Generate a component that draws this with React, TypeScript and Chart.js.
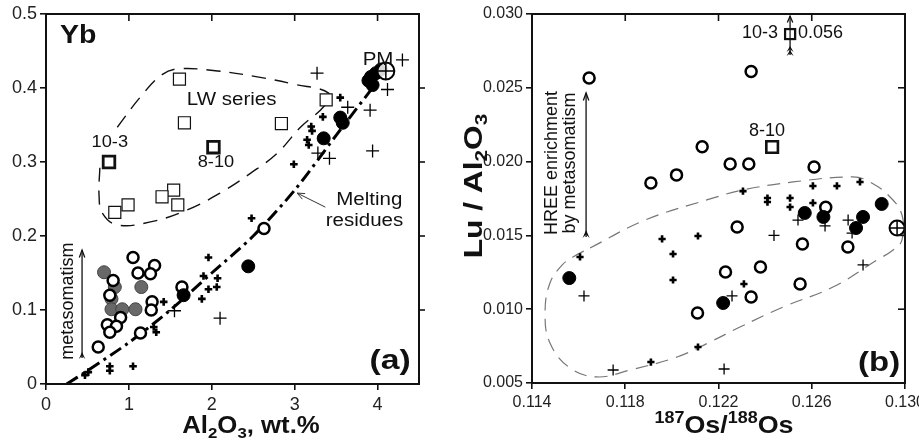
import React, { useEffect, useRef } from "react";
import { Chart, registerables } from "chart.js";
Chart.register(...registerables);

const FONT = "'Liberation Sans', Arial, Helvetica, sans-serif";
type P = [number, number];

// ---------- Panel (a): Yb vs Al2O3 ----------
const aXTicks = [0, 1, 2, 3, 4];
const aYTicks = [0, 0.1, 0.2, 0.3, 0.4, 0.5];
const aOpenCircles: P[] = [
  [1.05, 0.171], [1.31, 0.16], [1.11, 0.15], [1.26, 0.149], [0.81, 0.14], [0.77, 0.12],
  [1.28, 0.111], [1.27, 0.1], [0.9, 0.09], [0.74, 0.08], [0.85, 0.078], [0.77, 0.07],
  [1.14, 0.069], [0.63, 0.05], [1.64, 0.131], [2.63, 0.21],
];
const aGrayCircles: P[] = [
  [0.7, 0.151], [0.83, 0.131], [0.79, 0.115], [0.79, 0.101], [0.92, 0.101], [1.08, 0.101], [1.15, 0.131],
];
const aFilledCircles: P[] = [
  [3.92, 0.415], [3.98, 0.42], [4.04, 0.425], [3.94, 0.404], [3.89, 0.41], [3.58, 0.353],
  [3.55, 0.36], [3.35, 0.332], [2.44, 0.159], [1.66, 0.12],
];
const aSquares: P[] = [
  [1.61, 0.412], [1.67, 0.353], [0.99, 0.242], [0.83, 0.232], [1.54, 0.262], [1.4, 0.253],
  [1.59, 0.242], [2.84, 0.352], [3.38, 0.384],
];
const aBoldSquares: P[] = [[0.76, 0.3], [2.02, 0.32]];
const aThinPlus: P[] = [
  [3.27, 0.42], [4.3, 0.438], [4.12, 0.398], [3.64, 0.374], [3.91, 0.37], [3.94, 0.315],
  [3.28, 0.312], [3.42, 0.305], [1.55, 0.099], [2.1, 0.089],
];
const aBoldPlus: P[] = [
  [2.48, 0.224], [1.96, 0.171], [2.07, 0.143], [1.9, 0.146], [1.88, 0.115], [1.96, 0.128],
  [2.06, 0.131], [1.42, 0.111], [1.33, 0.07], [1.3, 0.077], [1.05, 0.024], [0.77, 0.024],
  [0.77, 0.018], [0.51, 0.016], [0.47, 0.012], [2.99, 0.297], [3.55, 0.387], [3.34, 0.361],
  [3.2, 0.348], [3.21, 0.342], [3.15, 0.33], [3.17, 0.323],
];
const aPM: P[] = [[4.1, 0.423]];
const aMeltingLine: P[] = [
  [0.25, 0], [0.5, 0.018], [1.0, 0.056], [1.5, 0.1], [2.0, 0.15], [2.5, 0.2], [3.0, 0.262],
  [3.5, 0.336], [4.02, 0.412],
];
const aLWOutline: P[] = [
  [0.86, 0.347], [1.14, 0.388], [1.4, 0.418], [1.6, 0.426], [2.07, 0.423], [2.55, 0.415],
  [3.0, 0.405], [3.41, 0.393], [3.36, 0.376], [3.07, 0.347], [2.79, 0.312], [2.47, 0.285],
  [2.1, 0.258], [1.7, 0.235], [1.26, 0.219], [0.86, 0.215], [0.68, 0.231], [0.64, 0.255],
  [0.65, 0.293],
];

// ---------- Panel (b): Lu/Al2O3 vs 187Os/188Os ----------
const bXTicks = [0.114, 0.118, 0.122, 0.126, 0.13];
const bYTicks = [0.005, 0.01, 0.015, 0.02, 0.025, 0.03];
const bOpenCircles: P[] = [
  [0.11645, 0.02566], [0.1234, 0.0261], [0.1213, 0.021], [0.1191, 0.01855], [0.1202, 0.0191],
  [0.1225, 0.01984], [0.1233, 0.01984], [0.1261, 0.01963], [0.1266, 0.0169], [0.1228, 0.01557],
  [0.1256, 0.01442], [0.12755, 0.01421], [0.1238, 0.01286], [0.1223, 0.01252], [0.1255, 0.01171],
  [0.1234, 0.01083], [0.1211, 0.00974],
];
const bFilledCircles: P[] = [
  [0.1156, 0.01211], [0.1222, 0.01042], [0.1257, 0.01652], [0.1265, 0.01625], [0.1282, 0.01625],
  [0.1279, 0.0155], [0.129, 0.01713],
];
const bThinPlus: P[] = [
  [0.11623, 0.0109], [0.11748, 0.00588], [0.12224, 0.00595], [0.12438, 0.015], [0.12541, 0.01604],
  [0.12657, 0.01564], [0.12756, 0.01604], [0.12773, 0.01516], [0.12258, 0.0109], [0.1282, 0.013],
];
const bBoldPlus: P[] = [
  [0.11606, 0.01354], [0.1191, 0.00642], [0.11958, 0.01476], [0.12005, 0.01374], [0.12005, 0.01198],
  [0.12112, 0.01496], [0.12112, 0.00744], [0.12305, 0.018], [0.1241, 0.01753], [0.1241, 0.01726],
  [0.12507, 0.01753], [0.12507, 0.01692], [0.12605, 0.01835], [0.12708, 0.01835], [0.12807, 0.01862],
  [0.12605, 0.0172], [0.12309, 0.01171],
];
const bPM: P[] = [[0.12966, 0.0155]];
const bSquare810: P[] = [[0.1243, 0.02099]];
const bSquare103: P[] = [[0.12507, 0.02864]];
const bOutline: P[] = [
  [0.11649, 0.01415], [0.11885, 0.01604], [0.12164, 0.01747], [0.12305, 0.01808], [0.1252, 0.01862],
  [0.12777, 0.01896], [0.1285, 0.01862], [0.12936, 0.0176], [0.12987, 0.01638], [0.12987, 0.01469],
  [0.12949, 0.01401], [0.1288, 0.01333], [0.12691, 0.0115], [0.12477, 0.01015], [0.12292, 0.00879],
  [0.12164, 0.00778], [0.12022, 0.00676], [0.1182, 0.00588], [0.11679, 0.00541], [0.11563, 0.00602],
  [0.11477, 0.00771], [0.11456, 0.00974], [0.11477, 0.01178], [0.11529, 0.01299], [0.11576, 0.01354],
  [0.11649, 0.01415],
];

// ---------- helpers ----------
type Part = { t: string; s?: "sub" | "sup" };
type TOpt = { bold?: boolean; align?: "left" | "center" | "right"; rot?: number; sx?: number; color?: string };

function rich(ctx: CanvasRenderingContext2D, parts: Part[], x: number, y: number, size: number, o: TOpt = {}) {
  const w8 = o.bold ? "bold " : "";
  const big = `${w8}${size}px ${FONT}`;
  const small = `${w8}${Math.round(size * 0.66)}px ${FONT}`;
  ctx.save();
  ctx.translate(x, y);
  if (o.rot) ctx.rotate(o.rot);
  if (o.sx) ctx.scale(o.sx, 1);
  ctx.fillStyle = o.color || "#111";
  ctx.textBaseline = "middle";
  ctx.textAlign = "left";
  let total = 0;
  for (const p of parts) {
    ctx.font = p.s ? small : big;
    total += ctx.measureText(p.t).width;
  }
  let cx = o.align === "right" ? -total : o.align === "left" ? 0 : -total / 2;
  for (const p of parts) {
    ctx.font = p.s ? small : big;
    const dy = p.s === "sub" ? size * 0.28 : p.s === "sup" ? -size * 0.3 : 0;
    ctx.fillText(p.t, cx, dy);
    cx += ctx.measureText(p.t).width;
  }
  ctx.restore();
}

function seg(ctx: CanvasRenderingContext2D, x1: number, y1: number, x2: number, y2: number) {
  ctx.beginPath();
  ctx.moveTo(x1, y1);
  ctx.lineTo(x2, y2);
  ctx.stroke();
}
function openHead(ctx: CanvasRenderingContext2D, x: number, y: number, ang: number, len: number, spread: number) {
  const a1 = ang + Math.PI - spread;
  const a2 = ang + Math.PI + spread;
  ctx.beginPath();
  ctx.moveTo(x + len * Math.cos(a1), y + len * Math.sin(a1));
  ctx.lineTo(x, y);
  ctx.lineTo(x + len * Math.cos(a2), y + len * Math.sin(a2));
  ctx.stroke();
}
function fletch(ctx: CanvasRenderingContext2D, x: number, y: number, w: number, h: number) {
  ctx.beginPath();
  ctx.moveTo(x, y);
  ctx.lineTo(x + w, y + h);
  ctx.lineTo(x, y + h * 0.55);
  ctx.lineTo(x - w, y + h);
  ctx.closePath();
  ctx.fill();
}

const toXY = (arr: P[]) => arr.map(([x, y]) => ({ x, y }));

function pts(arr: P[], style: any, order: number) {
  return { data: toXY(arr), showLine: false, clip: false, order, ...style };
}
function curve(arr: P[], style: any, order: number) {
  return { data: toXY(arr), showLine: true, pointRadius: 0, clip: false, order, fill: false, ...style };
}

const openCircle = (r: number) => ({ pointStyle: "circle", pointRadius: r, pointBackgroundColor: "#fff", pointBorderColor: "#000", pointBorderWidth: 2.5 });
const filledCircle = (r: number) => ({ pointStyle: "circle", pointRadius: r, pointBackgroundColor: "#000", pointBorderColor: "#000", pointBorderWidth: 1 });
const grayCircle = { pointStyle: "circle", pointRadius: 6.5, pointBackgroundColor: "#686868", pointBorderColor: "#444", pointBorderWidth: 1 };
const square = (r: number, bw: number) => ({ pointStyle: "rect", pointRadius: r, pointBackgroundColor: "#fff", pointBorderColor: "#111", pointBorderWidth: bw });
const plus = (r: number, bw: number) => ({ pointStyle: "cross", pointRadius: r, pointBorderColor: "#000", pointBorderWidth: bw });
const pmCircle = (r: number) => ({ pointStyle: "circle", pointRadius: r, pointBackgroundColor: "rgba(255,255,255,0.85)", pointBorderColor: "#000", pointBorderWidth: 2 });

function framePlugin(cfg: { topTicks: number[]; rightTicks: number[]; rightOut: boolean; draw: (ctx: CanvasRenderingContext2D, X: (v: number) => number, Y: (v: number) => number, chart: any) => void }) {
  return {
    id: "frame",
    afterDraw(chart: any) {
      const { ctx, chartArea: a, scales } = chart;
      const X = (v: number) => scales.x.getPixelForValue(v);
      const Y = (v: number) => scales.y.getPixelForValue(v);
      ctx.save();
      ctx.strokeStyle = "#111";
      ctx.lineWidth = 2;
      ctx.strokeRect(a.left, a.top, a.right - a.left, a.bottom - a.top);
      ctx.lineWidth = 1.6;
      for (const v of cfg.topTicks) {
        const px = X(v);
        seg(ctx, px, a.top, px, a.top + 7);
      }
      for (const v of cfg.rightTicks) {
        const py = Y(v);
        if (cfg.rightOut) seg(ctx, a.right, py, a.right + 6, py);
        else seg(ctx, a.right - 7, py, a.right, py);
      }
      ctx.restore();
      ctx.save();
      cfg.draw(ctx, X, Y, chart);
      ctx.restore();
    },
  };
}

function axisCommon(ticksArr: number[], fmt: (v: number) => string, size: number, isX: boolean, fitSize: number, min: number, max: number) {
  return {
    type: "linear",
    min,
    max,
    afterBuildTicks: (s: any) => {
      s.ticks = ticksArr.map((v) => ({ value: v }));
    },
    afterFit: (s: any) => {
      if (isX) s.height = fitSize;
      else s.width = fitSize;
      s.paddingLeft = 0;
      s.paddingRight = 0;
      s.paddingTop = 0;
      s.paddingBottom = 0;
    },
    ticks: {
      color: "#222",
      font: { family: FONT, size },
      padding: isX ? 4 : 3,
      maxRotation: 0,
      autoSkip: false,
      callback: (v: any) => fmt(Number(v)),
    },
    grid: { display: true, drawOnChartArea: false, drawTicks: true, tickLength: 6, color: "#111", lineWidth: 1.6 },
    border: { display: true, color: "#111", width: 2 },
  };
}

function makeA(): any {
  const datasets = [
    pts(aPM, plus(8.5, 1.5), 0),
    pts(aPM, pmCircle(8.5), 1),
    pts(aFilledCircles, filledCircle(6.5), 2),
    pts(aBoldSquares, square(8.2, 2.8), 3),
    pts(aSquares, square(8.5, 1.2), 4),
    pts(aOpenCircles, openCircle(5.5), 5),
    pts(aGrayCircles, grayCircle, 6),
    pts(aBoldPlus, plus(3.8, 2.6), 7),
    pts(aThinPlus, plus(6.5, 1.3), 8),
    curve(aMeltingLine, { borderColor: "#000", borderWidth: 3, borderDash: [13, 5, 3, 5], tension: 0.3 }, 9),
    curve(aLWOutline, { borderColor: "#111", borderWidth: 1.4, borderDash: [14, 9], tension: 0.4 }, 10),
  ];
  return {
    type: "scatter",
    data: { datasets },
    options: {
      animation: false,
      responsive: false,
      devicePixelRatio: 1,
      events: [],
      layout: { padding: { left: 0, top: 14, right: 41, bottom: 0 }, autoPadding: false },
      plugins: { legend: { display: false }, tooltip: { enabled: false } },
      scales: {
        x: axisCommon(aXTicks, (v) => String(v), 18, true, 56, 0, 4.5),
        y: axisCommon(aYTicks, (v) => (v === 0 ? "0" : v.toFixed(1)), 18, false, 46, 0, 0.5),
      },
    },
    plugins: [
      framePlugin({
        topTicks: [1, 2, 3, 4],
        rightTicks: [0.1, 0.2, 0.3, 0.4],
        rightOut: true,
        draw: (ctx, X, Y) => {
          const S = 1.14;
          rich(ctx, [{ t: "Yb" }], X(0.17), Y(0.47), 25, { bold: true, align: "left", sx: S });
          rich(ctx, [{ t: "PM" }], X(3.82), Y(0.438), 18, { align: "left", sx: S });
          rich(ctx, [{ t: "LW series" }], X(2.24), Y(0.384), 18, { sx: S });
          rich(ctx, [{ t: "10-3" }], X(0.77), Y(0.326), 16, { sx: S });
          rich(ctx, [{ t: "8-10" }], X(2.05), Y(0.299), 16, { sx: S });
          rich(ctx, [{ t: "Melting" }], X(4.3), Y(0.249), 18, { align: "right", sx: S });
          rich(ctx, [{ t: "residues" }], X(4.31), Y(0.22), 18, { align: "right", sx: S });
          rich(ctx, [{ t: "metasomatism" }], X(0.27), Y(0.112), 18, { rot: -Math.PI / 2 });
          rich(ctx, [{ t: "(a)" }], X(4.4), Y(0.03), 27, { bold: true, align: "right", sx: 1.25 });
          // melting residues pointer
          ctx.strokeStyle = "#333";
          ctx.lineWidth = 1;
          const x1 = X(3.37), y1 = Y(0.239), x2 = X(3.03), y2 = Y(0.258);
          seg(ctx, x1, y1, x2, y2);
          openHead(ctx, x2, y2, Math.atan2(y2 - y1, x2 - x1), 8, 0.4);
          // metasomatism arrow
          ctx.strokeStyle = "#111";
          ctx.fillStyle = "#111";
          ctx.lineWidth = 1.3;
          const mx = X(0.435), mTop = Y(0.181), mBot = Y(0.035);
          seg(ctx, mx, mBot, mx, mTop);
          openHead(ctx, mx, mTop, -Math.PI / 2, 8, 0.35);
          fletch(ctx, mx, mBot - 6, 3.2, 7);
          // axis title
          rich(ctx, [{ t: "Al" }, { t: "2", s: "sub" }, { t: "O" }, { t: "3", s: "sub" }, { t: ", wt.%" }], 251, 427, 23, { bold: true, sx: 1.12 });
        },
      }),
    ],
  };
}

function makeB(): any {
  const datasets = [
    pts(bPM, plus(7.5, 1.5), 0),
    pts(bPM, pmCircle(7.5), 1),
    pts(bSquare103, square(7, 2.2), 2),
    pts(bSquare810, square(8.2, 2.6), 3),
    pts(bFilledCircles, filledCircle(6.5), 4),
    pts(bOpenCircles, openCircle(5.5), 5),
    pts(bBoldPlus, plus(3.6, 2.6), 6),
    pts(bThinPlus, plus(5.5, 1.3), 7),
    curve(bOutline, { borderColor: "#777", borderWidth: 1.2, borderDash: [13, 8], tension: 0.4 }, 8),
  ];
  return {
    type: "scatter",
    data: { datasets },
    options: {
      animation: false,
      responsive: false,
      devicePixelRatio: 1,
      events: [],
      layout: { padding: { left: 0, top: 14, right: 14, bottom: 0 }, autoPadding: false },
      plugins: { legend: { display: false }, tooltip: { enabled: false } },
      scales: {
        x: axisCommon(bXTicks, (v) => v.toFixed(3), 16, true, 57, 0.114, 0.13),
        y: axisCommon(bYTicks, (v) => v.toFixed(3), 16, false, 72, 0.005, 0.03),
      },
    },
    plugins: [
      framePlugin({
        topTicks: [0.118, 0.122, 0.126],
        rightTicks: [0.01, 0.015, 0.02, 0.025],
        rightOut: false,
        draw: (ctx, X, Y) => {
          // 10-3 arrow (off-scale value)
          ctx.strokeStyle = "#111";
          ctx.fillStyle = "#111";
          ctx.lineWidth = 1.3;
          const ax = X(bSquare103[0][0]);
          const aTop = Y(0.02986), aBot = Y(0.02722);
          seg(ctx, ax, aBot, ax, aTop);
          openHead(ctx, ax, aTop, -Math.PI / 2, 7, 0.4);
          fletch(ctx, ax, aBot - 9, 3.5, 6);
          fletch(ctx, ax, aBot - 5, 3.5, 6);
          // redraw square on top of arrow line
          const sy = Y(bSquare103[0][1]);
          ctx.fillStyle = "#fff";
          ctx.fillRect(ax - 5, sy - 5, 10, 10);
          ctx.lineWidth = 2.2;
          ctx.strokeRect(ax - 5, sy - 5, 10, 10);
          ctx.lineWidth = 1.2;
          seg(ctx, ax, sy - 5, ax, sy + 5);
          rich(ctx, [{ t: "10-3" }], X(0.12455), Y(0.02871), 18, { align: "right" });
          rich(ctx, [{ t: "0.056" }], X(0.12541), Y(0.02871), 18, { align: "left" });
          rich(ctx, [{ t: "8-10" }], X(0.12408), Y(0.02207), 18);
          rich(ctx, [{ t: "HREE enrichment" }], X(0.11486), Y(0.0199), 18, { rot: -Math.PI / 2 });
          rich(ctx, [{ t: "by metasomatism" }], X(0.11563), Y(0.0199), 18, { rot: -Math.PI / 2 });
          // HREE arrow
          ctx.strokeStyle = "#111";
          ctx.fillStyle = "#111";
          ctx.lineWidth = 1.3;
          const hx = X(0.11632), hTop = Y(0.02465), hBot = Y(0.01489);
          seg(ctx, hx, hBot, hx, hTop);
          openHead(ctx, hx, hTop, -Math.PI / 2, 8, 0.35);
          fletch(ctx, hx, hBot - 7, 3.5, 8);
          rich(ctx, [{ t: "(b)" }], X(0.12979), Y(0.00629), 27, { bold: true, align: "right", sx: 1.22 });
          // axis titles
          rich(ctx, [{ t: "187", s: "sup" }, { t: "Os/" }, { t: "188", s: "sup" }, { t: "Os" }], 264, 426, 24, { bold: true, sx: 1.12 });
          rich(ctx, [{ t: "Lu / Al" }, { t: "2", s: "sub" }, { t: "O" }, { t: "3", s: "sub" }], 15, 186, 26, { bold: true, rot: -Math.PI / 2, sx: 1.22 });
        },
      }),
    ],
  };
}

function ChartCanvas({ make, left, width }: { make: () => any; left: number; width: number }) {
  const ref = useRef<HTMLCanvasElement | null>(null);
  useEffect(() => {
    if (!ref.current) return;
    const chart = new Chart(ref.current, make());
    return () => chart.destroy();
  }, [make]);
  return (
    <canvas
      ref={ref}
      width={width}
      height={440}
      style={{ position: "absolute", left, top: 0, width, height: 440 }}
    />
  );
}

export default function App() {
  return (
    <div style={{ position: "fixed", left: 0, top: 0, width: 919, height: 440, background: "#fff", overflow: "hidden" }}>
      <ChartCanvas make={makeA} left={0} width={460} />
      <ChartCanvas make={makeB} left={460} width={459} />
    </div>
  );
}
